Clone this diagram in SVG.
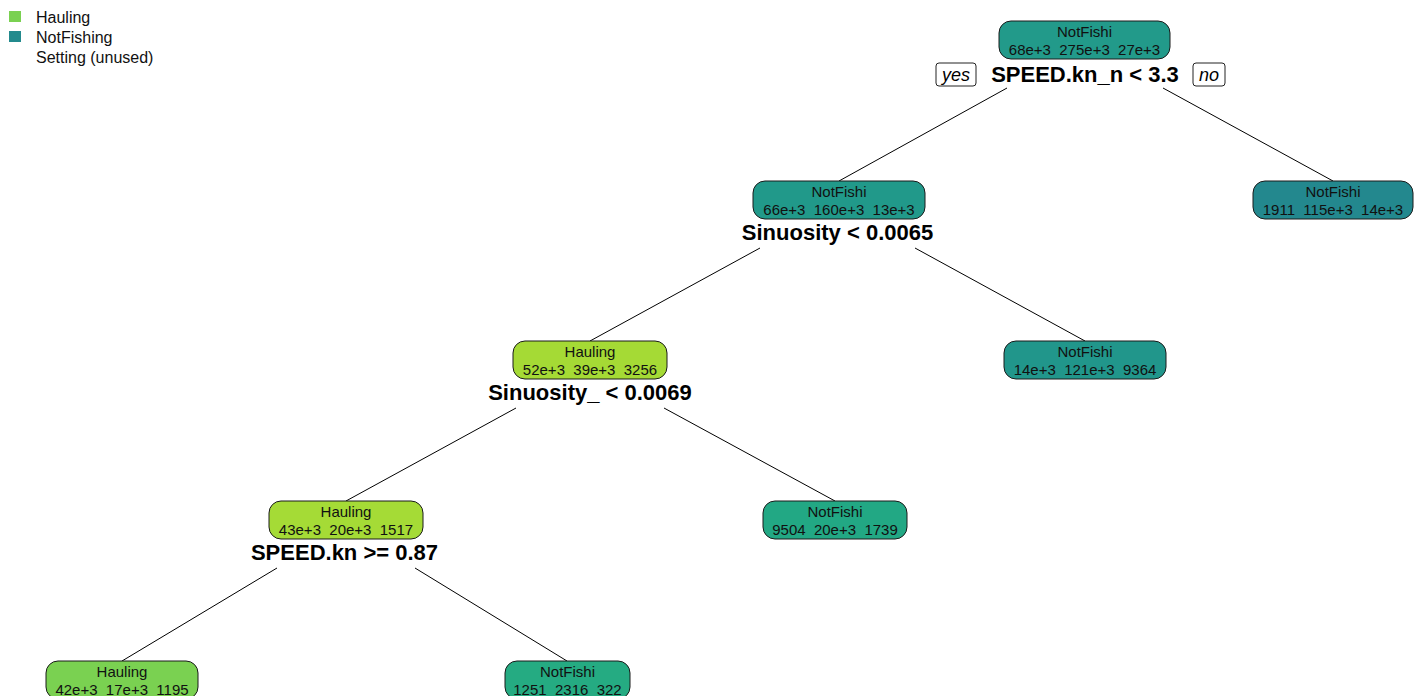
<svg xmlns="http://www.w3.org/2000/svg" width="1423" height="696" viewBox="0 0 1423 696">
<style>
.bg{fill:#ffffff}
.box{stroke:#1a1a1a;stroke-width:1}
.nt{font-family:"Liberation Sans",Arial,sans-serif;font-size:15px;fill:#111;text-anchor:middle;white-space:pre}
.sl{font-family:"Liberation Sans",Arial,sans-serif;font-size:22px;font-weight:bold;fill:#000;text-anchor:middle}
.yn{font-family:"Liberation Sans",Arial,sans-serif;font-size:18px;font-style:italic;fill:#000;text-anchor:middle}
.ynb{fill:#fff;stroke:#222;stroke-width:1}
.lg{font-family:"Liberation Sans",Arial,sans-serif;font-size:16px;fill:#111}
.edge{stroke:#000;stroke-width:1;fill:none}
</style>
<rect class="bg" x="0" y="0" width="1423" height="696"/>
<g id="legend">
<rect x="9" y="11" width="12" height="11" fill="#7AD151"/>
<rect x="9" y="31" width="12" height="11" fill="#238A8D"/>
<text class="lg" x="36" y="23">Hauling</text>
<text class="lg" x="36" y="43">NotFishing</text>
<text class="lg" x="36" y="63">Setting (unused)</text>
</g>
<g id="connectors">
<line class="edge" x1="1007" y1="88" x2="839" y2="181"/>
<line class="edge" x1="1163" y1="88" x2="1333" y2="181"/>
<line class="edge" x1="760" y1="248" x2="590" y2="341"/>
<line class="edge" x1="915" y1="248" x2="1085" y2="341"/>
<line class="edge" x1="516" y1="408" x2="346" y2="501"/>
<line class="edge" x1="664" y1="408" x2="835" y2="501"/>
<line class="edge" x1="277" y1="568" x2="122" y2="661"/>
<line class="edge" x1="415" y1="568" x2="567" y2="661"/>
</g>
<g id="node1">
<rect class="box" x="999" y="21" width="171" height="38" rx="12" fill="#229A8A"/>
<text class="nt" x="1084.5" y="37">NotFishi</text>
<text class="nt" x="1084.5" y="55">68e+3  275e+3  27e+3</text>
<text class="sl" x="1085" y="82">SPEED.kn_n &lt; 3.3</text>
<rect class="ynb" x="936" y="63" width="40" height="23" rx="3"/>
<text class="yn" x="956" y="81">yes</text>
<rect class="ynb" x="1193" y="63" width="32" height="23" rx="3"/>
<text class="yn" x="1209" y="81">no</text>
</g>
<g id="node2">
<rect class="box" x="753" y="181" width="172" height="38" rx="12" fill="#21998A"/>
<text class="nt" x="839" y="197">NotFishi</text>
<text class="nt" x="839" y="215">66e+3  160e+3  13e+3</text>
<text class="sl" x="837.5" y="240">Sinuosity &lt; 0.0065</text>
</g>
<g id="node3">
<rect class="box" x="1253" y="181" width="160" height="38" rx="12" fill="#23888E"/>
<text class="nt" x="1333" y="197">NotFishi</text>
<text class="nt" x="1333" y="215">1911  115e+3  14e+3</text>
</g>
<g id="node4">
<rect class="box" x="513" y="341" width="154" height="38" rx="12" fill="#A5DA35"/>
<text class="nt" x="590" y="357">Hauling</text>
<text class="nt" x="590" y="375">52e+3  39e+3  3256</text>
<text class="sl" x="590" y="400">Sinuosity_ &lt; 0.0069</text>
</g>
<g id="node5">
<rect class="box" x="1004" y="341" width="162" height="38" rx="12" fill="#21968B"/>
<text class="nt" x="1085" y="357">NotFishi</text>
<text class="nt" x="1085" y="375">14e+3  121e+3  9364</text>
</g>
<g id="node6">
<rect class="box" x="269" y="501" width="154" height="38" rx="12" fill="#A5DB36"/>
<text class="nt" x="346" y="517">Hauling</text>
<text class="nt" x="346" y="535">43e+3  20e+3  1517</text>
<text class="sl" x="344.5" y="560">SPEED.kn &gt;= 0.87</text>
</g>
<g id="node7">
<rect class="box" x="763" y="501" width="144" height="38" rx="12" fill="#22A884"/>
<text class="nt" x="835" y="517">NotFishi</text>
<text class="nt" x="835" y="535">9504  20e+3  1739</text>
</g>
<g id="node8">
<rect class="box" x="46" y="661" width="152" height="38" rx="12" fill="#7AD151"/>
<text class="nt" x="122" y="677">Hauling</text>
<text class="nt" x="122" y="695">42e+3  17e+3  1195</text>
</g>
<g id="node9">
<rect class="box" x="505" y="661" width="125" height="38" rx="12" fill="#25AB82"/>
<text class="nt" x="567.5" y="677">NotFishi</text>
<text class="nt" x="567.5" y="695">1251  2316  322</text>
</g>
</svg>
